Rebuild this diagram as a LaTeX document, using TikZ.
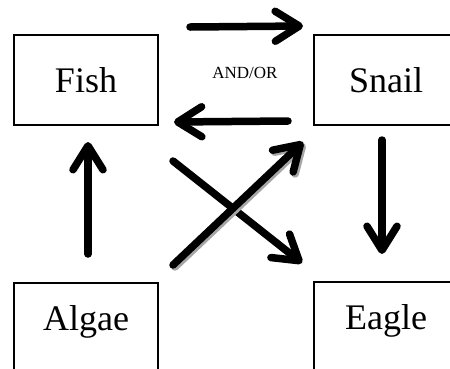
\documentclass[tikz,border=0pt]{standalone}
\usepackage{fontspec}
\setmainfont{Liberation Serif}
\usetikzlibrary{arrows.meta}
\begin{document}
\begin{tikzpicture}[x=1pt,y=-1pt,
  box/.style={draw,line width=2pt,minimum width=144pt,minimum height=90pt,inner sep=0pt,
    font=\fontsize{36}{40}\selectfont,text height=24pt,text depth=0pt},
  lowbox/.style={box,anchor=north,text depth=20pt},
  arr/.style={line width=7.5pt,line cap=round,
    -{Straight Barb[length=24pt,width=30pt,line cap=round,line join=round]}},
  shadowarr/.style={arr,draw=black!35,transform canvas={shift={(2pt,-2pt)}}},
  lab/.style={font=\fontsize{17}{20}\selectfont},
]
\useasboundingbox (0,0) rectangle (450,368);
\clip (0,0) rectangle (450,368);
\node[box] (fish) at (86,80) {Fish};
\node[box] (snail) at (386,80) {Snail};
\node[lowbox] (algae) at (86,282) {Algae};
\node[lowbox] (eagle) at (386,281) {Eagle};
\node[lab] (andor) at (245,73) {AND/OR};
% connector end points
\coordinate (fs1) at (190,27);
\coordinate (fs2) at (303,26);
\coordinate (sf1) at (288,121);
\coordinate (sf2) at (174,122);
\coordinate (af1) at (88,254);
\coordinate (af2) at (88,142);
\coordinate (se1) at (382,140);
\coordinate (se2) at (382,254);
\coordinate (fe1) at (173,161);
\coordinate (fe2) at (302,263);
\coordinate (as1) at (173,265);
\coordinate (as2) at (303,142);
\draw[arr] (fs1) -- (fs2);
\draw[arr] (sf1) -- (sf2);
\draw[arr] (af1) -- (af2);
\draw[arr] (se1) -- (se2);
\draw[arr] (fe1) -- (fe2);
\draw[shadowarr] (as1) -- (as2);
\draw[arr] (as1) -- (as2);
\end{tikzpicture}
\end{document}
